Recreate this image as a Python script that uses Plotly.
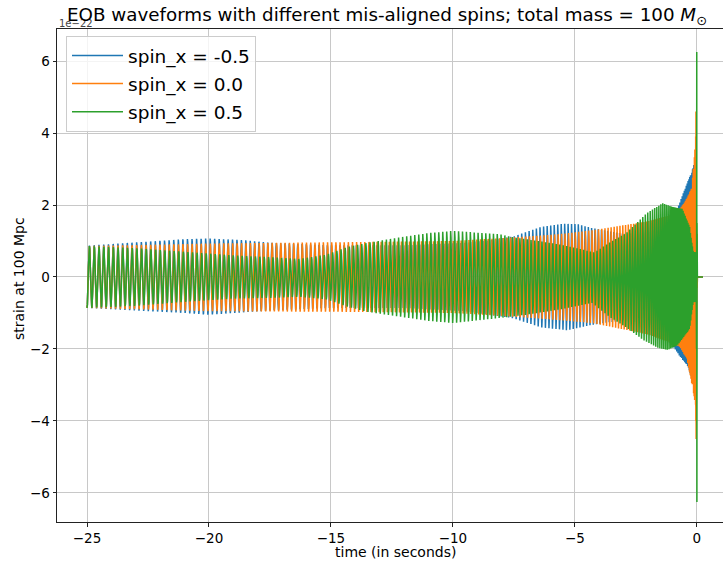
import numpy as np
import plotly.graph_objects as go

# ---- data (strain in units of 1e-22, time in s) ----
series_names = ["spin_x = -0.5", "spin_x = 0.0", "spin_x = 0.5"]
series_colors = ["#1f77b4", "#ff7f0e", "#2ca02c"]

# visible oscillation rate (cycles per second) as it appears in the chart
rate_t = [-25, -20, -15, -10, -7, -4, -2, -1.2, -0.7, -0.35, -0.15, -0.03]
rate_hz = [5.1, 5.4, 5.85, 6.2, 6.6, 7.5, 10.0, 14.0, 20.0, 28.0, 40.0, 60.0]
rate_scale = [1.0, 0.999, 0.995]

# upper / lower envelopes of each waveform
blue_up_t = [-25, -23, -21, -20, -18.5, -17.5, -15, -12, -9.5, -8.5, -7.5, -6.4, -5.5, -4.9, -4.3,
             -3.8, -3.0, -2.0, -1.3, -0.8, -0.4, -0.2, -0.12, -0.06]
blue_up = [0.87, 0.96, 1.05, 1.07, 1.02, 0.95, 0.88, 0.88, 0.95, 1.02, 1.13, 1.39, 1.48, 1.47, 1.36,
           1.3, 1.2, 1.25, 1.45, 1.9, 2.6, 2.95, 3.2, 3.3]
blue_lo_t = [-25, -21, -20, -17.5, -15, -12, -9.5, -7.5, -6.4, -5.3, -4.3, -3.0, -2.0, -1.3, -0.9,
             -0.7, -0.35, -0.2, -0.06]
blue_lo = [-0.86, -1.0, -1.05, -0.93, -0.86, -0.86, -0.95, -1.15, -1.4, -1.48, -1.33, -1.2, -1.3,
           -1.7, -2.0, -2.2, -2.5, -2.86, -2.9]

orange_up_t = [-25, -22, -20, -17, -14, -10, -8, -6.5, -5.5, -4.3, -2.9, -2.0, -1.2, -0.8, -0.4,
               -0.2, -0.12, -0.07]
orange_up = [0.86, 0.9, 0.93, 0.95, 0.97, 1.0, 1.08, 1.15, 1.2, 1.3, 1.45, 1.55, 1.7, 1.8, 2.2,
             2.5, 3.3, 3.7]
orange_lo_t = [-25, -20, -14, -10, -8, -5.6, -4.3, -2.9, -2.0, -1.2, -0.7, -0.4, -0.2, -0.12, -0.07]
orange_lo = [-0.86, -0.95, -0.97, -1.0, -1.08, -1.2, -1.28, -1.47, -1.6, -1.8, -1.94, -2.3, -3.0,
             -3.3, -3.6]

green_up_t = [-25, -23, -21, -19, -17.5, -16.3, -15.2, -14.3, -13.5, -12.2, -11, -10, -8.1, -7.5,
              -6.5, -5.6, -4.8, -4.2, -3.6, -2.9, -2.05, -1.4, -1.0, -0.6, -0.3, -0.15, -0.05]
green_up = [0.86, 0.8, 0.7, 0.6, 0.55, 0.5, 0.62, 0.84, 0.95, 1.1, 1.22, 1.28, 1.19, 1.1,
            1.0, 0.9, 0.78, 0.68, 0.95, 1.22, 1.78, 2.05, 1.95, 1.9, 1.4, 0.7, 0.7]
green_lo_t = [-25, -23, -21, -19, -17.5, -16.3, -15.2, -14.3, -13.5, -12.2, -11, -10, -8.1, -7.0,
              -5.6, -4.3, -3.6, -2.9, -2.2, -1.6, -1.2, -0.8, -0.3, -0.15, -0.05]
green_lo = [-0.86, -0.8, -0.69, -0.6, -0.58, -0.55, -0.62, -0.83, -0.97, -1.1, -1.22, -1.28, -1.14,
            -1.05, -0.9, -0.72, -1.1, -1.4, -1.75, -1.97, -2.03, -1.9, -1.45, -0.7, -0.7]

# merger peaks and ring-down
blue_merger_t = [-0.05, -0.044, -0.038, -0.032, 0.006, 0.012, 0.02, 0.25]
blue_merger = [3.0, -2.9, 3.8, -3.6, 1.0, -0.3, 0.0, 0.0]
orange_merger_t = [-0.05, -0.044, -0.038, -0.032, 0.006, 0.012, 0.02, 0.25]
orange_merger = [3.9, -4.0, 4.6, -4.5, 1.2, -0.3, 0.0, 0.0]
green_merger_t = [-0.022, -0.014, -0.006, 0.0, 0.006, 0.012, 0.02, 0.25]
green_merger = [1.5, -2.0, 6.25, -6.25, 1.5, -0.4, 0.0, 0.0]

x_ticks = [-25, -20, -15, -10, -5, 0]
y_ticks = [-6, -4, -2, 0, 2, 4, 6]

envelopes = [
    (blue_up_t, blue_up, blue_lo_t, blue_lo, blue_merger_t, blue_merger),
    (orange_up_t, orange_up, orange_lo_t, orange_lo, orange_merger_t, orange_merger),
    (green_up_t, green_up, green_lo_t, green_lo, green_merger_t, green_merger),
]

dt = 0.002
fig = go.Figure()
for i, (ut, uv, lt, lv, mt, mv) in enumerate(envelopes):
    t = np.arange(-25.0, mt[0] - 0.004 + 1e-9, dt)
    rate = np.interp(t, rate_t, rate_hz)
    phase = np.concatenate([[0.0], np.cumsum(rate[:-1] * rate_scale[i] * dt)])
    c = -np.cos(2 * np.pi * phase)
    up = np.interp(t, ut, uv)
    lo = np.interp(t, lt, lv)
    y = np.where(c >= 0, c * up, -c * lo)
    tt = np.concatenate([t, mt])
    yy = np.concatenate([y, mv])
    fig.add_trace(go.Scatter(
        x=tt, y=yy, mode="lines", name=series_names[i],
        line=dict(color=series_colors[i], width=1.5),
        legendgroup=f"g{i}",
    ))

W, H = 723, 564
L, R, T, B = 57, 0, 29, 42
pw, ph = W - L - R, H - T - B

font_family = "DejaVu Sans, sans-serif"
fig.update_layout(
    width=W, height=H,
    margin=dict(l=L, r=R, t=T, b=B, pad=0),
    paper_bgcolor="white", plot_bgcolor="white",
    font=dict(family=font_family, color="black", size=13.5),
    showlegend=True,
    legend=dict(
        x=(66 - L) / pw, y=1 - (36 - T) / ph, xanchor="left", yanchor="top",
        font=dict(size=18.5, family=font_family),
        bgcolor="rgba(255,255,255,0.8)", bordercolor="#cccccc", borderwidth=1,
        itemwidth=51, tracegroupgap=1, traceorder="grouped",
    ),
    xaxis=dict(
        range=[-26.23, 1.07], tickvals=x_ticks, ticktext=[f"{v}".replace("-", "\u2212") for v in x_ticks],
        showgrid=True, gridcolor="#c8c8c8", gridwidth=1, zeroline=False,
        showline=True, linecolor="#222", linewidth=1, mirror=True,
        ticks="outside", ticklen=3.5, tickwidth=1, tickcolor="#222",
        tickfont=dict(size=13.5),
    ),
    yaxis=dict(
        range=[-6.806, 6.889], tickvals=y_ticks, ticktext=[f"{v}".replace("-", "\u2212") for v in y_ticks],
        showgrid=True, gridcolor="#c8c8c8", gridwidth=1, zeroline=False,
        showline=True, linecolor="#222", linewidth=1, mirror=False,
        ticks="outside", ticklen=3.5, tickwidth=1, tickcolor="#222",
        tickfont=dict(size=13.5),
    ),
    annotations=[
        dict(text="1e\u221222", xref="paper", yref="paper", x=(57 - L) / pw, y=1 + (T - 23) / ph,
             xanchor="left", yanchor="middle", showarrow=False,
             font=dict(size=10, family=font_family, color="#444")),
        dict(text="EOB waveforms with different mis-aligned spins; total mass = 100 <i>M</i><sub>\u2299</sub>",
             xref="paper", yref="paper", x=(65 - L) / pw, y=1 + (T - 16) / ph,
             xanchor="left", yanchor="middle", showarrow=False,
             font=dict(size=18.3, family=font_family, color="black")),
        dict(text="time (in seconds)", xref="paper", yref="paper", x=(395 - L) / pw,
             y=-(552 - (T + ph)) / ph, xanchor="center", yanchor="middle", showarrow=False,
             font=dict(size=14, family=font_family, color="black")),
        dict(text="strain at 100 Mpc", xref="paper", yref="paper", x=(19 - L) / pw,
             y=1 - (279 - T) / ph, xanchor="center", yanchor="middle", textangle=-90, showarrow=False,
             font=dict(size=14, family=font_family, color="black")),
    ],
)

fig.write_html("out.html")
